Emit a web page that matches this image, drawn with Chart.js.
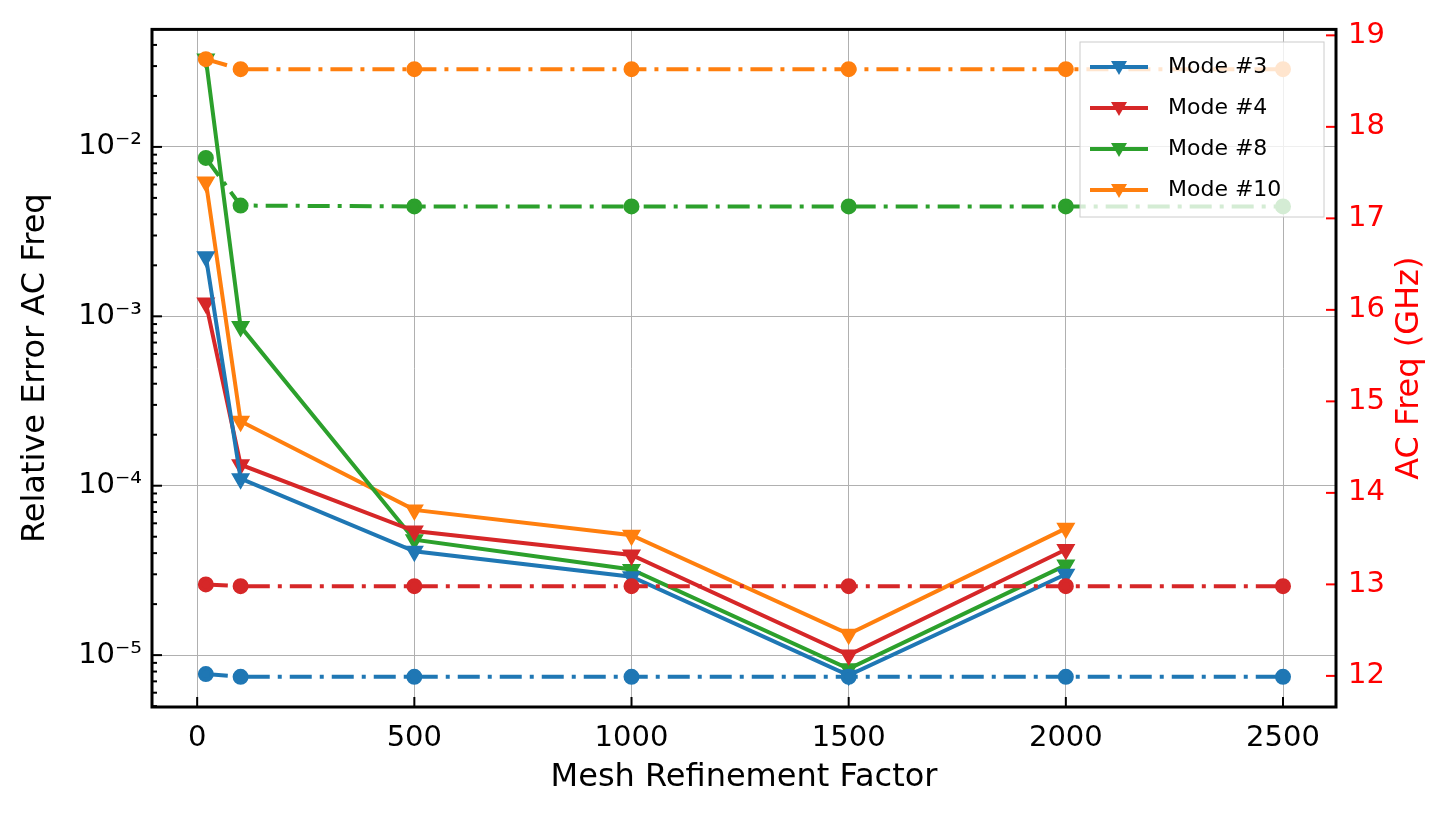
<!DOCTYPE html>
<html>
<head>
<meta charset="utf-8">
<script src="https://cdn.jsdelivr.net/npm/chart.js@4/dist/chart.umd.min.js"></script>
<style>
  body { margin: 0; background: #fff; }
  #wrap { width: 1450px; height: 819px; }
</style>
</head>
<body>
<div id="wrap"><canvas id="chart"></canvas></div>
<script>
const errX = [20, 100, 500, 1000, 1500, 2000];
const freqX = [20, 100, 500, 1000, 1500, 2000, 2500];

const errMode3 = [2.25e-3, 1.1e-4, 4.1e-5, 2.9e-5, 7.6e-6, 3.0e-5];
const errMode4 = [1.2e-3, 1.33e-4, 5.4e-5, 3.9e-5, 1.0e-5, 4.2e-5];
const errMode8 = [3.3e-2, 8.7e-4, 4.8e-5, 3.2e-5, 8.3e-6, 3.4e-5];
const errMode10 = [6.2e-3, 2.4e-4, 7.2e-5, 5.1e-5, 1.33e-5, 5.6e-5];

const freqMode3 = [12.02, 11.99, 11.99, 11.99, 11.99, 11.99, 11.99];
const freqMode4 = [13.0, 12.98, 12.98, 12.98, 12.98, 12.98, 12.98];
const freqMode8 = [17.66, 17.14, 17.13, 17.13, 17.13, 17.13, 17.13];
const freqMode10 = [18.74, 18.63, 18.63, 18.63, 18.63, 18.63, 18.63];

const xTicks = [0, 500, 1000, 1500, 2000, 2500];
const logTicks = [1e-5, 1e-4, 1e-3, 1e-2];
const logLabels = ["10⁻⁵", "10⁻⁴", "10⁻³", "10⁻²"];
const freqTicks = [12, 13, 14, 15, 16, 17, 18, 19];

const colors = { m3: "#1f77b4", m4: "#d62728", m8: "#2ca02c", m10: "#ff7f0e" };
const FONT = "DejaVu Sans";

function pts(xs, ys) { return xs.map((x, i) => ({ x, y: ys[i] })); }

function errSet(label, data, color) {
  return { label, data: pts(errX, data), yAxisID: "y", borderColor: color, backgroundColor: color,
    borderWidth: 4, pointStyle: "triangle", rotation: 180, pointRadius: 7, tension: 0 };
}
function freqSet(label, data, color) {
  return { label, data: pts(freqX, data), yAxisID: "y2", borderColor: color, backgroundColor: color,
    borderWidth: 4, borderDash: [22, 8, 4, 8], pointStyle: "circle", pointRadius: 6, tension: 0 };
}

const frame = {
  id: "frame",
  afterDraw(chart) {
    const { ctx, chartArea: a, scales } = chart;
    ctx.save();
    ctx.strokeStyle = "#000";
    ctx.lineWidth = 2;
    xTicks.forEach(v => {
      const px = scales.x.getPixelForValue(v);
      ctx.beginPath(); ctx.moveTo(px, a.bottom); ctx.lineTo(px, a.bottom - 10); ctx.stroke();
    });
    for (let e = -6; e <= -1; e++) {
      for (let m = 1; m <= 9; m++) {
        const v = m * Math.pow(10, e);
        const py = scales.y.getPixelForValue(v);
        if (py < a.top || py > a.bottom) continue;
        const len = m === 1 ? 10 : 5;
        ctx.beginPath(); ctx.moveTo(a.left, py); ctx.lineTo(a.left + len, py); ctx.stroke();
      }
    }
    ctx.strokeStyle = "red";
    freqTicks.forEach(v => {
      const py = scales.y2.getPixelForValue(v);
      ctx.beginPath(); ctx.moveTo(a.right, py); ctx.lineTo(a.right - 10, py); ctx.stroke();
    });
    ctx.strokeStyle = "#000";
    ctx.lineWidth = 3;
    ctx.strokeRect(a.left, a.top, a.right - a.left, a.bottom - a.top);

    // axis titles
    ctx.font = "32px " + FONT;
    ctx.textAlign = "center";
    ctx.textBaseline = "middle";
    ctx.fillStyle = "#000";
    ctx.fillText("Mesh Refinement Factor", (a.left + a.right) / 2, 778);
    ctx.save(); ctx.translate(36, (a.top + a.bottom) / 2); ctx.rotate(-Math.PI / 2);
    ctx.fillText("Relative Error AC Freq", 0, 0); ctx.restore();
    ctx.fillStyle = "red";
    ctx.save(); ctx.translate(1410, (a.top + a.bottom) / 2); ctx.rotate(-Math.PI / 2);
    ctx.fillText("AC Freq (GHz)", 0, 0); ctx.restore();

    // legend
    const lx = 1080, ly = 42, lw = 244, lh = 175;
    ctx.fillStyle = "rgba(255,255,255,0.8)";
    ctx.strokeStyle = "#ccc";
    ctx.lineWidth = 1;
    ctx.fillRect(lx, ly, lw, lh); ctx.strokeRect(lx, ly, lw, lh);
    const items = [["Mode #3", colors.m3], ["Mode #4", colors.m4], ["Mode #8", colors.m8], ["Mode #10", colors.m10]];
    ctx.font = "22px " + FONT;
    ctx.textAlign = "left";
    items.forEach((it, i) => {
      const y = ly + 25 + i * 41;
      ctx.strokeStyle = it[1]; ctx.fillStyle = it[1]; ctx.lineWidth = 4;
      ctx.beginPath(); ctx.moveTo(lx + 10, y); ctx.lineTo(lx + 68, y); ctx.stroke();
      ctx.beginPath(); ctx.moveTo(lx + 31, y - 6); ctx.lineTo(lx + 47, y - 6); ctx.lineTo(lx + 39, y + 8); ctx.closePath(); ctx.fill();
      ctx.fillStyle = "#000";
      ctx.fillText(it[0], lx + 88, y);
    });
    ctx.restore();
  }
};

new Chart(document.getElementById("chart"), {
  type: "line",
  data: {
    datasets: [
      freqSet("f3", freqMode3, colors.m3),
      freqSet("f4", freqMode4, colors.m4),
      freqSet("f8", freqMode8, colors.m8),
      freqSet("f10", freqMode10, colors.m10),
      errSet("Mode #3", errMode3, colors.m3),
      errSet("Mode #4", errMode4, colors.m4),
      errSet("Mode #8", errMode8, colors.m8),
      errSet("Mode #10", errMode10, colors.m10)
    ]
  },
  options: {
    responsive: true,
    maintainAspectRatio: false,
    animation: false,
    layout: { padding: { top: 27, left: 0, right: 0, bottom: 0 } },
    plugins: { legend: { display: false }, tooltip: { enabled: false } },
    scales: {
      x: {
        type: "linear", min: -104, max: 2622,
        afterBuildTicks: s => { s.ticks = xTicks.map(v => ({ value: v })); },
        afterFit: s => { s.height = 112; },
        grid: { color: "#b0b0b0", lineWidth: 1, drawTicks: false },
        border: { display: false },
        ticks: { color: "#000", font: { family: FONT, size: 29 }, padding: 14, callback: v => String(v) }
      },
      y: {
        type: "logarithmic", position: "left", min: 4.94e-6, max: 0.0494,
        afterBuildTicks: s => { s.ticks = logTicks.map(v => ({ value: v })); },
        afterFit: s => { s.width = 152; },
        grid: { color: "#b0b0b0", lineWidth: 1, drawTicks: false },
        border: { display: false },
        ticks: { color: "#000", font: { family: FONT, size: 29 }, padding: 10,
          callback: v => { const i = logTicks.findIndex(t => Math.abs(t - v) / t < 1e-6); return i >= 0 ? logLabels[i] : ""; } }
      },
      y2: {
        type: "linear", position: "right", min: 11.66, max: 19.065,
        afterBuildTicks: s => { s.ticks = freqTicks.map(v => ({ value: v })); },
        afterFit: s => { s.width = 114; },
        grid: { display: false, drawTicks: false },
        border: { display: false },
        ticks: { color: "red", font: { family: FONT, size: 29 }, padding: 12 }
      }
    }
  },
  plugins: [frame]
});
</script>
</body>
</html>
